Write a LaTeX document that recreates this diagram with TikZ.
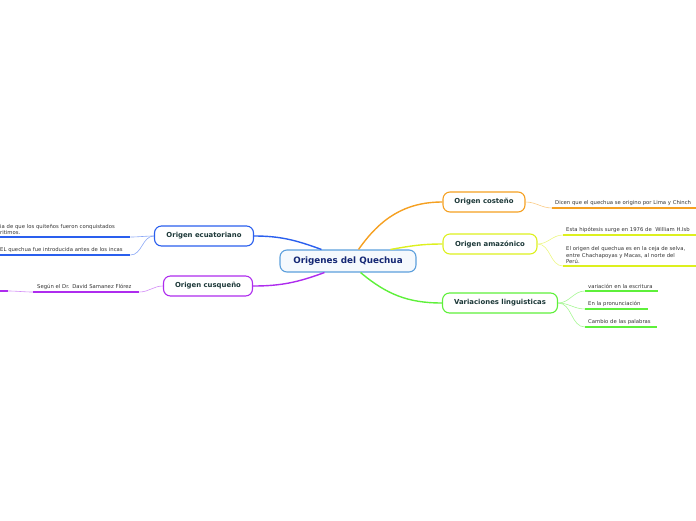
\documentclass[tikz,border=0pt]{standalone}
\usepackage{fontspec}
\setmainfont{DejaVu Sans}
\usetikzlibrary{positioning}
\definecolor{ink}{HTML}{1C3838}
\definecolor{cOr}{HTML}{F5A021}
\definecolor{cYe}{HTML}{DDF01E}
\definecolor{cGr}{HTML}{5EF03A}
\definecolor{cBl}{HTML}{2A5FEE}
\definecolor{cPu}{HTML}{AE2CEE}
\definecolor{cCe}{HTML}{5C9FDC}
\begin{document}
\begin{tikzpicture}[x=1pt, y=-1pt,
  topic/.style={draw=#1, line width=1.1pt, rounded corners=7pt, fill=white, minimum height=20pt, font=\fontsize{6.9}{8}\selectfont\bfseries, text=ink},
  leaf/.style={anchor=south west, inner xsep=3pt, inner ysep=1.8pt, align=left, font=\fontsize{5.3}{6.6}\selectfont, text=black!80},
  branch/.style={draw=#1, line width=1.4pt},
  twig/.style={draw=#1!55, line width=0.6pt},
  ul/.style={draw=#1, line width=1.8pt}]
\useasboundingbox (0,0) rectangle (696,520);
\clip (0,0) rectangle (696,520);
% main topics
\node[topic=cCe, minimum width=136pt, minimum height=22pt, fill=cCe!6, font=\fontsize{8.8}{10}\selectfont\bfseries, text=ink!70!blue] (root) at (348,261) {Origenes del Quechua};
\node[topic=cOr, minimum width=82pt] (cost) at (484,202) {Origen costeño};
\node[topic=cYe, minimum width=94pt] (amaz) at (490,244) {Origen amazónico};
\node[topic=cGr, minimum width=115pt] (vari) at (500,303) {Variaciones linguisticas};
\node[topic=cBl, minimum width=99pt] (ecua) at (204,236) {Origen ecuatoriano};
\node[topic=cPu, minimum width=89pt] (cusq) at (208,286) {Origen cusqueño};
% leaves
\node[leaf, text width=150pt] (cos1) at (552,208) {Dicen que el quechua se origino por Lima y Chinch};
\node[leaf, text width=140pt] (ama1) at (563,235) {Esta hipótesis surge en 1976 de\ \ William H.Isb};
\node[leaf, text width=140pt] (ama2) at (563,266) {El origen del quechua es en la ceja de selva,\\entre Chachapoyas y Macas, al norte del\\Perú.};
\node[leaf, text width=67pt] (var1) at (585,291) {variación en la escritura};
\node[leaf, text width=57pt] (var2) at (585,309) {En la pronunciación};
\node[leaf, text width=66pt] (var3) at (585,327) {Cambio de las palabras};
\node[leaf, text width=127pt] (ecu1) at (-3,237) {ia de que los quiteños fueron conquistados\\ritimos.};
\node[leaf, text width=127pt] (ecu2) at (-3,255) {EL quechua fue introducida antes de los incas};
\node[leaf, text width=98pt, inner xsep=4pt] (cus1) at (33,292) {Según el Dr. David Samanez Flórez};
\coordinate (cus2) at (8,291);
% underlines
\foreach \l/\c in {cos1/cOr, ama1/cYe, ama2/cYe, var1/cGr, var2/cGr, var3/cGr, ecu1/cBl, ecu2/cBl, cus1/cPu}
  \draw[ul=\c] (\l.south west) -- (\l.south east);
\draw[ul=cPu] (-20,291) -- (cus2);
% branches
\draw[branch=cOr] (root.north east) ++(-58,0) to[out=55,in=180] (cost.west);
\draw[branch=cYe] (root.north east) ++(-26,0) to[out=10,in=180] (amaz.west);
\draw[branch=cGr] (root.south east) ++(-56,0) to[out=-40,in=180] (vari.west);
\draw[branch=cBl] (root.north west) ++(42,0) to[out=160,in=0] (ecua.east);
\draw[branch=cPu] (root.south west) ++(45,0) to[out=-160,in=0] (cusq.east);
% twigs
\draw[twig=cOr] (cost.east) to[out=0,in=180] (cos1.south west);
\foreach \l in {ama1, ama2} \draw[twig=cYe] (amaz.east) to[out=0,in=180] (\l.south west);
\foreach \l in {var1, var2, var3} \draw[twig=cGr] (vari.east) to[out=0,in=180] (\l.south west);
\foreach \l in {ecu1, ecu2} \draw[twig=cBl] (ecua.west) to[out=180,in=0] (\l.south east);
\draw[twig=cPu] (cusq.west) to[out=180,in=0] (cus1.south east);
\draw[twig=cPu] (cus1.south west) to[out=180,in=0] (cus2);
\end{tikzpicture}
\end{document}
